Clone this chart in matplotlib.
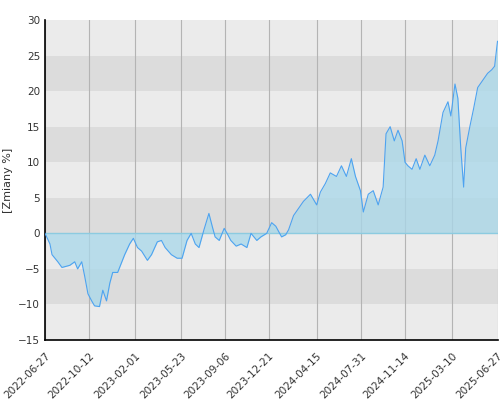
import matplotlib
matplotlib.use("Agg")
import matplotlib.pyplot as plt
import numpy as np
import pandas as pd

start = "2022-06-27"
days = [0,12,17,31,41,60,72,79,89,96,104,113,120,132,140,149,157,164,176,193,205,214,224,234,248,258,272,282,291,306,320,332,344,354,364,373,385,397,405,412,422,434,441,450,463,475,489,499,513,523,537,549,559,573,583,590,602,614,626,643,658,667,679,691,706,718,730,742,752,764,771,783,795,807,819,826,836,846,855,865,872,879,889,899,908,920,932,944,952,964,976,983,993,1000,1007,1014,1019,1029,1038,1048,1060,1072,1082,1089,1096]
values = [0,-1.5,-3,-4,-4.8,-4.5,-4,-5,-4,-6,-8.5,-9.5,-10.2,-10.3,-8,-9.5,-7,-5.5,-5.5,-3,-1.5,-0.7,-2,-2.5,-3.8,-3,-1.2,-1,-2,-3,-3.5,-3.5,-1,0,-1.5,-2,0.5,2.8,1,-0.5,-1,0.7,0,-1,-1.8,-1.5,-2,0,-1,-0.5,0,1.5,1,-0.5,-0.2,0.5,2.5,3.5,4.5,5.5,4,5.8,7,8.5,8,9.5,8,10.5,8,6,3,5.5,6,4,6.5,14,15,13,14.5,13,10,9.5,9,10.5,9,11,9.5,11,13,17,18.5,16.5,21,19,12,6.5,12,15,17.5,20.5,21.5,22.5,23,23.5,27]
tick_labels = ["2022-06-27","2022-10-12","2023-02-01","2023-05-23","2023-09-06","2023-12-21","2024-04-15","2024-07-31","2024-11-14","2025-03-10","2025-06-27"]

x = pd.to_datetime(start) + pd.to_timedelta(days, unit="D")
y = np.array(values)

fig = plt.figure(figsize=(5, 4), dpi=100)
ax = fig.add_axes([0.09, 0.15, 0.905, 0.80])
x0, x1 = pd.to_datetime(tick_labels[0]), pd.to_datetime(tick_labels[-1])
ax.set_xlim(x0, x1)
ax.set_ylim(-15, 30)
for i, lo in enumerate(range(-15, 30, 5)):
    ax.axhspan(lo, lo + 5, color="#ebebeb" if i % 2 == 0 else "#dcdcdc", lw=0, zorder=0)
ticks = pd.to_datetime(tick_labels)
for t in ticks:
    ax.axvline(t, color="#b4b4b4", lw=0.8, zorder=1)
ax.fill_between(x, y, 0, color="#a8d8ea", alpha=0.75, lw=0, zorder=2)
ax.axhline(0, color="#8ccbe0", lw=1, zorder=2)
ax.plot(x, y, color="#4da3f0", lw=0.8, zorder=3)
ax.set_xticks(ticks)
ax.set_xticklabels(tick_labels, rotation=45, ha="right", rotation_mode="anchor")
ax.set_yticks(range(-15, 31, 5))
ax.tick_params(labelsize=7.5, colors="#333333", length=0)
ax.tick_params(axis="x", pad=8)
ax.set_ylabel("[Zmiany %]", fontsize=8, color="#333333")
for s in ["top", "right"]:
    ax.spines[s].set_visible(False)
for s in ["left", "bottom"]:
    ax.spines[s].set_linewidth(1.2)
fig.savefig("out.png", dpi=100)
